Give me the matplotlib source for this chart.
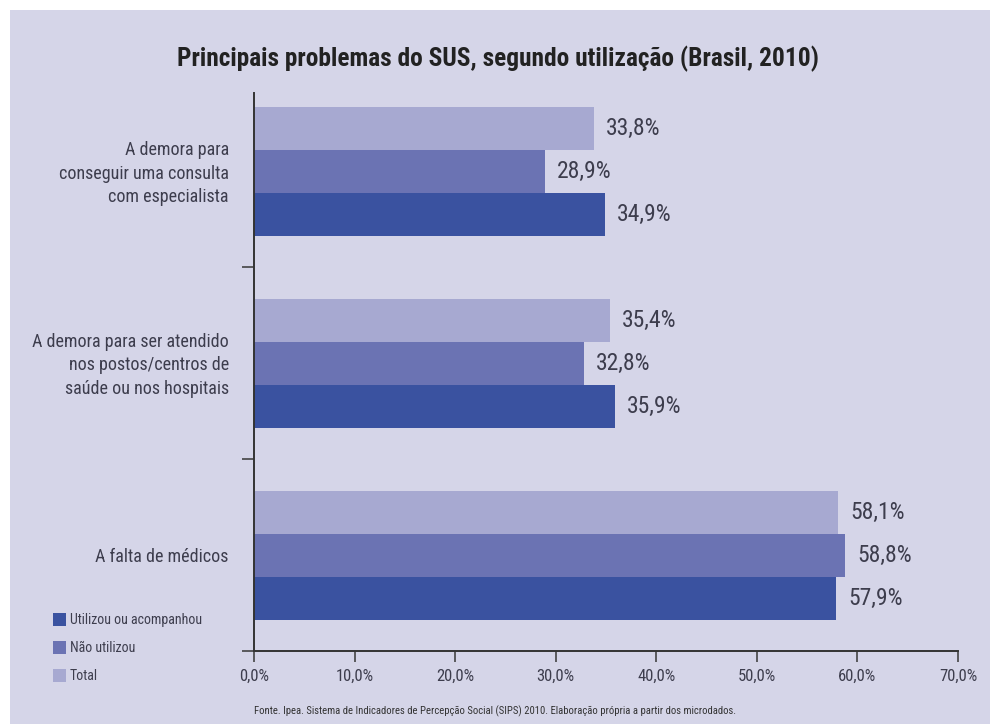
import numpy as np
import matplotlib
matplotlib.use("Agg")
import matplotlib.pyplot as plt
from matplotlib import font_manager
from matplotlib.patches import Rectangle

# dados
categorias = ["A demora para\nconseguir uma consulta\ncom especialista",
              "A demora para ser atendido\nnos postos/centros de\nsaúde ou nos hospitais",
              "A falta de médicos"]
series = ["Total", "Não utilizou", "Utilizou ou acompanhou"]
valores_total = [33.8, 35.4, 58.1]
valores_nao = [28.9, 32.8, 58.8]
valores_util = [34.9, 35.9, 57.9]
xticks = [0, 10, 20, 30, 40, 50, 60, 70]

cores = {"Total": "#a7a9d1", "Não utilizou": "#6b73b3", "Utilizou ou acompanhou": "#3a52a0"}
fundo = "#d5d5e8"

# fonte estreita, se existir
nomes = {f.name for f in font_manager.fontManager.ttflist}
fonte = "DejaVu Sans"
for nome in ["Roboto Condensed", "Liberation Sans Narrow", "DejaVu Sans Condensed", "Open Sans Condensed"]:
    if nome in nomes:
        fonte = nome
        break
plt.rcParams['font.family'] = [fonte, 'DejaVu Sans']

fig = plt.figure(figsize=(9.9, 7.24), dpi=100, facecolor="white")
fig.patches.append(Rectangle((10 / 990, 0), 1, 1 - 10 / 724, transform=fig.transFigure,
                             facecolor=fundo, edgecolor="none", zorder=-10))

ax = fig.add_axes([254 / 990, 1 - 651 / 724, (958 - 254) / 990, (651 - 93) / 724])
ax.set_facecolor("none")

y = np.arange(len(categorias))
h = 0.224
for dados, nome, off in [(valores_total, "Total", -h), (valores_nao, "Não utilizou", 0),
                         (valores_util, "Utilizou ou acompanhou", h)]:
    ax.barh(y + off, dados, height=h, color=cores[nome], label=nome)
    for yi, v in zip(y + off, dados):
        ax.text(v + 1.2, yi, f"{v:.1f}%".replace(".", ","), va="center", ha="left",
                fontsize=17, color="#3d3d4d")

ax.set_xlim(0, 70)
ax.set_ylim(2.5, -0.41)
ax.set_xticks(xticks)
ax.set_xticklabels([f"{t:.1f}%".replace(".", ",") for t in xticks], fontsize=12, color="#3d3d4d")
ax.set_yticks([0.5, 1.5, 2.5])
ax.set_yticklabels([])
ax.tick_params(axis="x", length=8, width=1.2, color="#444444", pad=5)
ax.tick_params(axis="y", length=9, width=1.2, color="#444444")
for s in ["top", "right"]:
    ax.spines[s].set_visible(False)
for s in ["left", "bottom"]:
    ax.spines[s].set_color("#333333")
    ax.spines[s].set_linewidth(1.4)

for yi, cat in zip(y, categorias):
    ax.text(-2.5, yi + 0.01, cat, ha="right", va="center",
            fontsize=13, color="#3d3d4d", linespacing=1.4, transform=ax.transData, clip_on=False)

fig.text(498 / 990, 1 - 59 / 724, "Principais problemas do SUS, segundo utilização (Brasil, 2010)",
         ha="center", va="center", fontsize=18.3, fontweight="bold", color="#222222")
fig.text(495 / 990, 1 - 711 / 724,
         "Fonte. Ipea. Sistema de Indicadores de Percepção Social (SIPS) 2010. Elaboração própria a partir dos microdados.",
         ha="center", va="center", fontsize=7.7, color="#333333")

# legenda
for i, nome in enumerate(["Utilizou ou acompanhou", "Não utilizou", "Total"]):
    yy = 1 - (620 + 28 * i) / 724
    fig.patches.append(Rectangle((53 / 990, yy - 6 / 724), 13 / 990, 13 / 724, transform=fig.transFigure,
                                 facecolor=cores[nome], edgecolor="none"))
    fig.text(70 / 990, yy, nome, ha="left", va="center", fontsize=10, color="#3d3d4d")

fig.savefig("out.png", dpi=100, facecolor="white")
